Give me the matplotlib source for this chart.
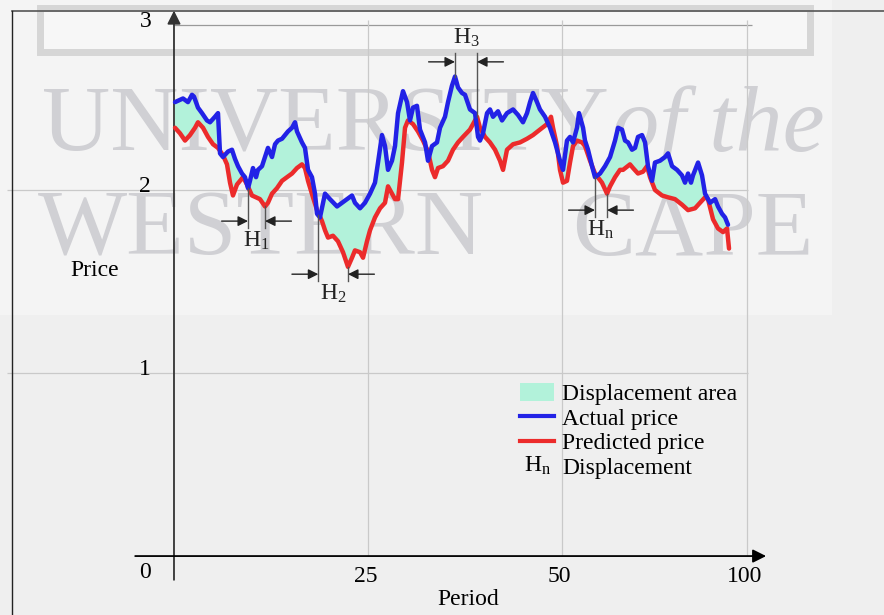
import numpy as np
import matplotlib.pyplot as plt
from matplotlib.patches import Patch, Rectangle
from matplotlib.lines import Line2D
from matplotlib.text import Text
from matplotlib.legend_handler import HandlerBase

plt.rcParams['font.family'] = ['Liberation Serif', 'DejaVu Serif']
plt.rcParams['mathtext.fontset'] = 'custom'
plt.rcParams['mathtext.rm'] = 'Liberation Serif'
plt.rcParams['mathtext.it'] = 'Liberation Serif:italic'

# actual price series
actual_period = [0.13, 1.16, 1.80, 2.32, 2.58, 3.09, 3.61, 4.25, 4.64, 5.28,
                 5.67, 5.93, 6.31, 6.96, 7.47, 7.86, 8.25, 8.76, 9.15, 9.54,
                 9.79, 10.18, 10.57, 10.82, 11.34, 11.73, 12.11, 12.63, 13.02, 13.40,
                 13.92, 14.30, 14.69, 15.21, 15.59, 15.85, 16.49, 16.88, 17.27, 17.78,
                 18.17, 18.43, 18.81, 19.46, 20.10, 21.01, 21.65, 22.29, 22.94, 23.32,
                 23.97, 24.61, 25.26, 25.90, 26.29, 26.80, 27.19, 27.58, 28.09, 28.48,
                 28.87, 29.51, 30.03, 30.41, 30.80, 31.31, 31.70, 32.35, 32.73, 33.25,
                 33.89, 34.28, 34.92, 35.31, 35.82, 36.21, 36.60, 37.11, 37.50, 38.14,
                 38.79, 39.18, 39.43, 39.82, 40.34, 40.72, 41.11, 41.75, 42.27, 42.91,
                 43.69, 44.33, 44.97, 45.49, 45.88, 46.26, 46.78, 47.16, 47.81, 48.45,
                 49.10, 49.74, 50.13, 50.64, 51.03, 51.42, 51.93, 52.19, 52.71, 52.96,
                 53.35, 53.87, 54.25, 54.90, 55.54, 56.19, 56.83, 57.22, 57.73, 58.12,
                 58.51, 59.02, 59.41, 59.79, 60.31, 60.70, 61.08, 61.60, 61.98, 62.63,
                 63.27, 63.66, 64.18, 64.82, 65.46, 65.85, 66.24, 66.62, 66.88, 67.53,
                 68.04, 68.43, 69.07, 69.72, 70.10, 70.62, 71.01, 71.39]
actual_price = [2.48, 2.50, 2.48, 2.52, 2.51, 2.45, 2.42, 2.38, 2.37, 2.40,
                2.42, 2.20, 2.18, 2.21, 2.22, 2.17, 2.13, 2.09, 2.07, 2.01,
                2.05, 2.12, 2.07, 2.11, 2.13, 2.18, 2.23, 2.18, 2.25, 2.27,
                2.28, 2.30, 2.32, 2.34, 2.37, 2.32, 2.26, 2.23, 2.11, 2.07,
                1.98, 1.87, 1.85, 1.98, 1.95, 1.91, 1.93, 1.95, 1.97, 1.93,
                1.90, 1.93, 1.98, 2.04, 2.15, 2.30, 2.24, 2.11, 2.16, 2.24,
                2.42, 2.54, 2.48, 2.38, 2.45, 2.46, 2.33, 2.26, 2.16, 2.24,
                2.26, 2.34, 2.40, 2.48, 2.57, 2.62, 2.56, 2.53, 2.52, 2.44,
                2.42, 2.29, 2.27, 2.31, 2.42, 2.44, 2.40, 2.43, 2.38, 2.42,
                2.44, 2.41, 2.37, 2.42, 2.48, 2.53, 2.48, 2.44, 2.40, 2.34,
                2.26, 2.16, 2.11, 2.27, 2.29, 2.26, 2.34, 2.42, 2.34, 2.27,
                2.22, 2.13, 2.07, 2.09, 2.13, 2.18, 2.27, 2.34, 2.33, 2.27,
                2.26, 2.22, 2.23, 2.29, 2.30, 2.26, 2.13, 2.05, 2.15, 2.16,
                2.18, 2.20, 2.13, 2.11, 2.08, 2.04, 2.09, 2.04, 2.08, 2.15,
                2.08, 1.98, 1.93, 1.95, 1.91, 1.87, 1.85, 1.81]

# predicted price series
predicted_period = [0.13, 0.77, 1.42, 2.06, 2.71, 3.09, 3.74, 4.38, 5.03, 5.67,
                    6.31, 6.83, 7.22, 7.60, 8.12, 8.51, 8.89, 9.41, 10.05, 10.57,
                    11.08, 11.73, 12.11, 12.63, 13.27, 13.92, 14.56, 15.21, 15.85, 16.49,
                    16.88, 17.27, 17.91, 18.43, 19.07, 19.46, 19.85, 20.49, 21.13, 21.78,
                    22.42, 22.94, 23.32, 23.97, 24.36, 24.87, 25.26, 25.90, 26.55, 27.19,
                    27.58, 28.09, 28.48, 28.87, 29.38, 29.77, 30.15, 30.80, 31.44, 32.09,
                    32.73, 33.25, 33.63, 34.02, 34.66, 35.31, 35.95, 36.60, 37.24, 38.14,
                    38.79, 39.05, 39.43, 40.08, 40.72, 41.37, 42.01, 42.40, 42.91, 43.69,
                    44.59, 45.49, 46.26, 47.16, 48.07, 48.58, 48.84, 49.36, 49.74, 50.13,
                    50.64, 51.03, 51.42, 51.93, 52.58, 52.96, 53.61, 54.25, 55.15, 55.80,
                    56.19, 56.83, 57.47, 57.86, 58.76, 59.15, 59.79, 60.44, 60.95, 61.34,
                    61.98, 62.89, 63.66, 64.56, 65.46, 66.24, 67.14, 67.78, 68.43, 68.81,
                    69.46, 70.10, 70.75, 71.26, 71.52]
predicted_price = [2.34, 2.31, 2.27, 2.30, 2.34, 2.37, 2.34, 2.29, 2.25, 2.23,
                   2.19, 2.14, 2.04, 1.97, 2.03, 2.05, 2.07, 2.03, 1.97, 1.96,
                   1.95, 1.91, 1.93, 1.98, 2.01, 2.05, 2.07, 2.09, 2.12, 2.14,
                   2.12, 2.05, 1.96, 1.89, 1.83, 1.78, 1.74, 1.75, 1.72, 1.66,
                   1.58, 1.63, 1.67, 1.66, 1.63, 1.72, 1.78, 1.85, 1.90, 1.93,
                   2.02, 1.98, 1.95, 1.95, 2.15, 2.34, 2.38, 2.36, 2.32, 2.27,
                   2.21, 2.11, 2.07, 2.12, 2.13, 2.16, 2.22, 2.26, 2.29, 2.33,
                   2.38, 2.40, 2.34, 2.29, 2.26, 2.22, 2.16, 2.11, 2.22, 2.25,
                   2.26, 2.28, 2.30, 2.33, 2.36, 2.40, 2.34, 2.24, 2.11, 2.04,
                   2.05, 2.15, 2.24, 2.27, 2.26, 2.24, 2.16, 2.09, 2.04, 1.98,
                   2.02, 2.07, 2.11, 2.11, 2.14, 2.12, 2.09, 2.10, 2.13, 2.07,
                   2.00, 1.97, 1.96, 1.95, 1.92, 1.89, 1.90, 1.93, 1.96, 1.95,
                   1.84, 1.79, 1.77, 1.79, 1.68]

# displacement markers: period on the actual curve -> period on the predicted curve
disp_names = ['1', '2', '3', 'n']
disp_start = [9.54, 18.60, 36.21, 54.25]
disp_end = [11.73, 22.42, 39.05, 55.80]

x_tick_pos = [25, 50, 73.8]
x_tick_labels = ['25', '50', '100']
y_tick_pos = [1, 2, 2.9]
y_tick_labels = ['1', '2', '3']

blue = '#2222e6'
red = '#ec2b2b'
mint = '#b2f2da'
grid_c = '#c9c9c9'

W, H = 884, 615
fig = plt.figure(figsize=(W / 100, H / 100), dpi=100, facecolor='#efefef')
ax = fig.add_axes([0, 0, 1, 1])
ax.set_xlim(-22.42, 91.49)
ax.set_ylim(-0.322, 3.038)
ax.axis('off')


def fig_xy(px, py):
    return px / W, 1 - py / H


# faint background logo
ax.add_patch(Rectangle(fig_xy(0, 315), 832 / W, 315 / H, transform=fig.transFigure,
                       facecolor='#f4f4f4', edgecolor='none', zorder=-5))
ax.add_patch(Rectangle(fig_xy(40, 52), 770 / W, 44 / H, transform=fig.transFigure,
                       facecolor='#f7f7f7', edgecolor='#d6d6d6', lw=5, zorder=-4))
wm = dict(transform=fig.transFigure, color='#d0d0d4', fontsize=68, va='center', ha='left', zorder=-3)
ax.text(*fig_xy(42, 128), 'UNIVERSITY', **wm)
ax.text(*fig_xy(612, 128), 'of the', style='italic', **wm)
ax.text(*fig_xy(38, 232), 'WESTERN', **wm)
ax.text(*fig_xy(572, 232), 'CAPE', **wm)

# frame lines of the page
ax.plot([12 / W, 1], [1 - 11 / H] * 2, color='#555555', lw=1.2, transform=fig.transFigure)
ax.plot([12 / W] * 2, [0, 1 - 11 / H], color='#222222', lw=1.0, transform=fig.transFigure)

# grid
ax.hlines([1, 2], -21.5, 74.0, color=grid_c, lw=0.9, zorder=1)
ax.hlines(y_tick_pos[2], 0, 74.5, color='#9a9a9a', lw=0.9, zorder=1)
ax.vlines(x_tick_pos, 0, 2.93, color=grid_c, lw=0.9, zorder=1)

# axes with arrow heads
ax.annotate('', xy=(0, 2.98), xytext=(0, -0.13),
            arrowprops=dict(arrowstyle='-|>', color='#333333', lw=1.3, mutation_scale=20,
                            shrinkA=0, shrinkB=0), zorder=3)
ax.annotate('', xy=(76.3, 0), xytext=(-5.0, 0),
            arrowprops=dict(arrowstyle='-|>', color='black', lw=1.3, mutation_scale=20,
                            shrinkA=0, shrinkB=0), zorder=3)

fs = 17
for x, lab in zip(x_tick_pos, x_tick_labels):
    ax.text(x - 0.3, -0.11, lab, fontsize=fs, ha='center', va='center')
for y, lab in zip(y_tick_pos, y_tick_labels):
    ax.text(-3.7, y + 0.02, lab, fontsize=fs, ha='center', va='center')
ax.text(-3.7, -0.09, '0', fontsize=fs, ha='center', va='center')
ax.text(-10.2, 1.56, 'Price', fontsize=fs, ha='center', va='center')
ax.text(37.9, -0.24, 'Period', fontsize=fs, ha='center', va='center')

# displacement area and the two price curves
ax.fill(np.concatenate([actual_period, predicted_period[::-1]]),
        np.concatenate([actual_price, predicted_price[::-1]]),
        color=mint, lw=0, zorder=2)
ax.plot(predicted_period, predicted_price, color=red, lw=3.2, zorder=4,
        solid_joinstyle='round', solid_capstyle='round')
ax.plot(actual_period, actual_price, color=blue, lw=3.2, zorder=5,
        solid_joinstyle='round', solid_capstyle='round')

# displacement brackets
bracket_y = [1.83, 1.54, 2.70, 1.89]
arrow_kw = dict(arrowstyle='-|>', color='#222222', lw=1.0, mutation_scale=15, shrinkA=0, shrinkB=0)
for name, s, e, lvl in zip(disp_names, disp_start, disp_end, bracket_y):
    ya = np.interp(s, actual_period, actual_price)
    yp = np.interp(e, predicted_period, predicted_price)
    above = lvl > ya
    ext = 0.05 if above else -0.035
    ax.plot([s, s], [ya, lvl + ext], color='#555555', lw=1.0, zorder=6)
    ax.plot([e, e], [yp, lvl + ext], color='#555555', lw=1.0, zorder=6)
    ax.annotate('', xy=(s, lvl), xytext=(s - 3.4, lvl), arrowprops=arrow_kw, zorder=6)
    ax.annotate('', xy=(e, lvl), xytext=(e + 3.4, lvl), arrowprops=arrow_kw, zorder=6)
    ty = lvl + 0.13 if above else lvl - 0.11
    ax.text((s + e) / 2, ty, 'H$_\\mathrm{%s}$' % name, fontsize=fs, ha='center', va='center',
            color='#222222', zorder=6)


class HandlerLabel(HandlerBase):
    def create_artists(self, legend, orig_handle, xdescent, ydescent, width, height, fontsize, trans):
        t = Text(width / 2 - xdescent, height / 2 - ydescent, orig_handle.get_text(),
                 ha='center', va='center', fontsize=fontsize, transform=trans)
        return [t]


handles = [Patch(facecolor=mint, edgecolor='none'),
           Line2D([], [], color=blue, lw=3),
           Line2D([], [], color=red, lw=3),
           Text(0, 0, 'H$_\\mathrm{n}$')]
labels = ['Displacement area', 'Actual price', 'Predicted price', 'Displacement']
ax.legend(handles, labels, handler_map={Text: HandlerLabel()}, loc='upper left',
          bbox_to_anchor=fig_xy(520, 383), frameon=False, fontsize=fs,
          handlelength=1.45, handleheight=0.8, handletextpad=0.35,
          labelspacing=0.1, borderpad=0, borderaxespad=0)

fig.savefig('out.png', dpi=100, facecolor=fig.get_facecolor())
